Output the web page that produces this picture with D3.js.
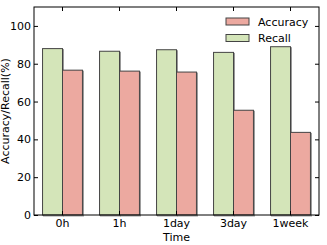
<!DOCTYPE html>
<html>
<head>
<meta charset="utf-8">
<script src="https://cdn.jsdelivr.net/npm/d3@7"></script>
<style>
  body { margin: 0; background: #fff; }
  text { font-family: 'DejaVu Sans', sans-serif; }
</style>
</head>
<body>
<svg id="chart" width="327" height="245"></svg>
<script>
// data
const times = ['0h', '1h', '1day', '3day', '1week'];
const recall = [88.0, 86.6, 87.4, 86.0, 89.0];
const accuracy = [76.6, 76.1, 75.6, 55.4, 43.7];
const yTicks = [0, 20, 40, 60, 80, 100];

const margin = { top: 7, right: 8, bottom: 30, left: 34 };
const width = 327, height = 245;
const svg = d3.select('#chart');

const x = d3.scaleBand()
  .domain(times)
  .range([margin.left, width - margin.right])
  .paddingInner(0.3)
  .paddingOuter(0.15);

const y = d3.scaleLinear()
  .domain([0, 110])
  .range([height - margin.bottom, margin.top]);

const barW = x.bandwidth() / 2;
const series = [
  { name: 'Recall', values: recall, color: '#d4e5b9', offset: 0 },
  { name: 'Accuracy', values: accuracy, color: '#eca9a0', offset: barW }
];

// bars (with a faint shadow like the original)
series.forEach((s) => {
  const g = svg.append('g');
  g.selectAll('rect.shadow')
    .data(times)
    .join('rect')
    .attr('class', 'shadow')
    .attr('x', (d) => x(d) + s.offset + 1)
    .attr('y', (d, i) => y(s.values[i]) + 1)
    .attr('width', barW)
    .attr('height', (d, i) => y(0) - y(s.values[i]))
    .attr('fill', 'none')
    .attr('stroke', '#999')
    .attr('stroke-width', 1);
  g.selectAll('rect.bar')
    .data(times)
    .join('rect')
    .attr('class', 'bar')
    .attr('x', (d) => x(d) + s.offset)
    .attr('y', (d, i) => y(s.values[i]))
    .attr('width', barW)
    .attr('height', (d, i) => y(0) - y(s.values[i]))
    .attr('fill', s.color)
    .attr('stroke', '#444')
    .attr('stroke-width', 1);
});

// axes, ticks pointing inward like matplotlib classic
const xAxis = d3.axisBottom(x).tickSizeInner(-4).tickSizeOuter(0).tickPadding(4);
const xTop = d3.axisTop(x).tickSizeInner(-4).tickSizeOuter(0).tickFormat('');
const yAxis = d3.axisLeft(y).tickValues(yTicks).tickSizeInner(-4).tickSizeOuter(0).tickPadding(3);
const yRight = d3.axisRight(y).tickValues(yTicks).tickSizeInner(-4).tickSizeOuter(0).tickFormat('');

function styleAxis(g) {
  g.select('.domain').remove();
  g.selectAll('line').attr('stroke', '#000');
  g.selectAll('text').attr('font-size', 11).attr('fill', '#000')
    .attr('font-family', "'DejaVu Sans', sans-serif");
}

svg.append('g').attr('transform', `translate(0,${y(0)})`).call(xAxis).call(styleAxis);
svg.append('g').attr('transform', `translate(0,${margin.top})`).call(xTop).call(styleAxis);
svg.append('g').attr('transform', `translate(${margin.left},0)`).call(yAxis).call(styleAxis);
svg.append('g').attr('transform', `translate(${width - margin.right},0)`).call(yRight).call(styleAxis);

// frame
svg.append('rect')
  .attr('x', margin.left)
  .attr('y', margin.top)
  .attr('width', width - margin.left - margin.right)
  .attr('height', y(0) - margin.top)
  .attr('fill', 'none')
  .attr('stroke', '#000')
  .attr('stroke-width', 1);

// axis labels
svg.append('text')
  .attr('x', (margin.left + width - margin.right) / 2)
  .attr('y', 241)
  .attr('text-anchor', 'middle')
  .attr('font-size', 11)
  .text('Time');

svg.append('text')
  .attr('transform', `translate(9,${(margin.top + y(0)) / 2}) rotate(-90)`)
  .attr('text-anchor', 'middle')
  .attr('font-size', 11)
  .text('Accuracy/Recall(%)');

// legend
const legendItems = [series[1], series[0]];
const legend = svg.append('g').attr('transform', 'translate(226,18)');
legendItems.forEach((s, i) => {
  const row = legend.append('g').attr('transform', `translate(0,${i * 16.5})`);
  row.append('rect')
    .attr('width', 23)
    .attr('height', 7)
    .attr('fill', s.color)
    .attr('stroke', '#444')
    .attr('stroke-width', 1);
  row.append('text')
    .attr('x', 32)
    .attr('y', 7.5)
    .attr('font-size', 11)
    .text(s.name);
});
</script>
</body>
</html>
